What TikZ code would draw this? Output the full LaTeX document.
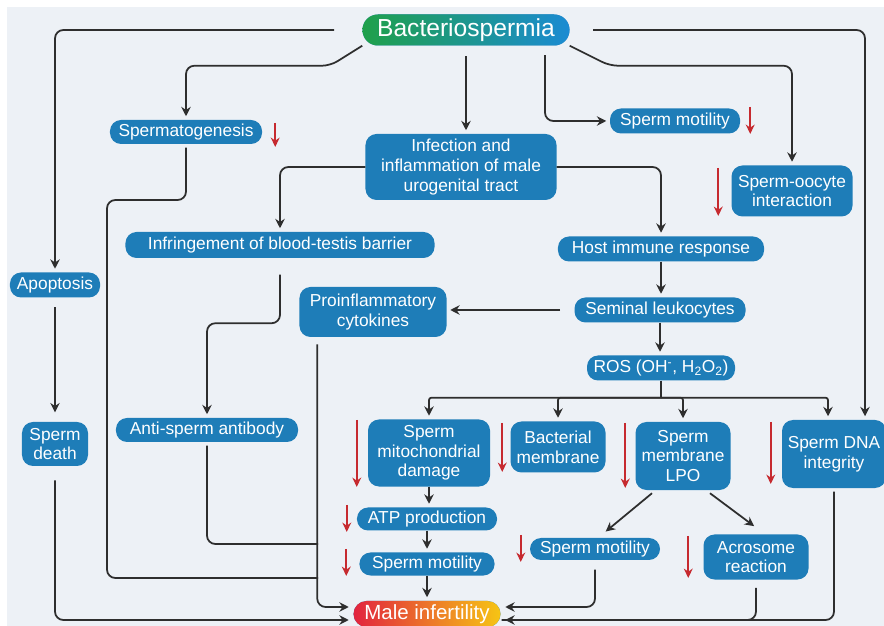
\documentclass[tikz,border=0pt]{standalone}
\usepackage{fontspec}
\setmainfont{Liberation Sans}
\usetikzlibrary{arrows.meta}
\usetikzlibrary{calc}

\definecolor{bgcol}{HTML}{EDF1F6}
\definecolor{boxblue}{HTML}{1E7DB8}
\definecolor{linegray}{HTML}{2E2E2E}
\definecolor{downred}{HTML}{C62A2F}
\definecolor{bgreen}{HTML}{1FA04A}
\definecolor{bblue}{HTML}{1B8BD3}
\definecolor{mired}{HTML}{E2243F}
\definecolor{miorange}{HTML}{F07D22}
\definecolor{miyellow}{HTML}{F6C514}

\tikzset{
  box/.style={rectangle, rounded corners=0.33cm, fill=boxblue, text=white,
    align=center, inner sep=1pt, font=\fontsize{14.8}{16.8}\selectfont},
  link/.style={draw=linegray, line width=1.5pt, rounded corners=0.25cm},
  conn/.style={link, shorten >=3pt, -{Stealth[length=8pt,width=8pt]}},
  decr/.style={draw=downred, line width=1.7pt, -{Stealth[length=8pt,width=7.5pt]}},
}

\begin{document}
\begin{tikzpicture}[x=0.03cm,y=-0.03cm]
        \useasboundingbox (0,0) rectangle (884,626);
        \fill[bgcol] (7,7) rectangle (884,626);

        % Nodes
        \node[box, minimum width=6.21cm, minimum height=0.93cm, rounded corners=0.46cm,
          left color=bgreen, right color=bblue, font=\fontsize{21}{24}\selectfont] (bact) at (466,30) {Bacteriospermia};
        \node[box, minimum width=4.56cm, minimum height=0.72cm] (sperm)  at (186,132) {Spermatogenesis};
        \node[box, minimum width=5.73cm, minimum height=1.98cm] (infec)  at (461,167) {Infection and\\inflammation of male\\urogenital tract};
        \node[box, minimum width=3.9cm,  minimum height=0.75cm] (motil)  at (675,121) {Sperm motility};
        \node[box, minimum width=3.63cm, minimum height=1.53cm] (oocyte) at (792,191) {Sperm-oocyte\\interaction};
        \node[box, minimum width=9.27cm, minimum height=0.78cm] (infr)   at (280,245) {Infringement of blood-testis barrier};
        \node[box, minimum width=6.18cm, minimum height=0.75cm] (host)   at (661,249) {Host immune response};
        \node[box, minimum width=2.7cm,  minimum height=0.75cm] (apop)   at (55,285)  {Apoptosis};
        \node[box, minimum width=4.41cm, minimum height=1.5cm]  (cyto)   at (373,312) {Proinflammatory\\cytokines};
        \node[box, minimum width=5.13cm, minimum height=0.75cm] (semi)   at (660,310) {Seminal leukocytes};
        \node[box, minimum width=4.44cm, minimum height=0.75cm] (ros)    at (661,368) {ROS (OH\textsuperscript{-}, H\textsubscript{2}O\textsubscript{2})};
        \node[box, minimum width=5.46cm, minimum height=0.72cm] (anti)   at (207,430) {Anti-sperm antibody};
        \node[box, minimum width=1.98cm, minimum height=1.32cm] (death)  at (55,444)  {Sperm\\death};
        \node[box, minimum width=3.66cm, minimum height=2.01cm] (mito)   at (429,453) {Sperm\\mitochondrial\\damage};
        \node[box, minimum width=2.85cm, minimum height=1.53cm] (bacm)   at (558,447) {Bacterial\\membrane};
        \node[box, minimum width=2.85cm, minimum height=2.04cm] (lpo)    at (683,456) {Sperm\\membrane\\LPO};
        \node[box, minimum width=3.12cm, minimum height=2.04cm] (dna)    at (834,454) {Sperm DNA\\integrity};
        \node[box, minimum width=4.2cm,  minimum height=0.69cm] (atp)    at (427,519) {ATP production};
        \node[box, minimum width=4.05cm, minimum height=0.69cm] (mot2)   at (427,564) {Sperm motility};
        \node[box, minimum width=3.9cm,  minimum height=0.66cm] (mot3)   at (595,549) {Sperm motility};
        \node[box, minimum width=3.15cm, minimum height=1.35cm] (acro)   at (756,557) {Acrosome\\reaction};
        \node[box, minimum width=4.41cm, minimum height=0.78cm, rounded corners=0.39cm,
          left color=mired, middle color=miorange, right color=miyellow,
          font=\fontsize{17.5}{20}\selectfont] (inf) at (427,614) {Male infertility};

        % Junctions
        \coordinate (rosj) at ($(ros.south)+(0,17)$);
        \coordinate (jA)   at ($(cyto.south west)+(18,0)$);
        \coordinate (jB)   at (318,578);
        \coordinate (jC)   at (318,544);
        \coordinate (inL1) at ($(inf.west)+(-1,-7)$);
        \coordinate (inL2) at ($(inf.west)+(-1,6)$);
        \coordinate (inR1) at ($(inf.east)+(1,-7)$);
        \coordinate (inR2) at ($(inf.east)+(1,6)$);

        % Edges
        \draw[conn, shorten <=24pt] (bact.west) -| (apop.north);
        \draw[conn] (bact.south west) -- ++(-32,20) -| (sperm.north);
        \draw[conn, shorten <=9pt] (bact.south) -- (bact.south |- infec.north);
        \draw[conn, shorten <=8pt] ($(bact.south)+(79,0)$) |- (motil.west);
        \draw[conn] (bact.south east) -- ++(40,20) -| (oocyte.north);
        \draw[conn, shorten <=20pt] (bact.east) -| ($(dna.north)+(31,0)$);
        \draw[conn] (infec.west) -| (infr.north);
        \draw[conn] (infec.east) -| (host.north);
        \draw[conn] (host.south) -- (host.south |- semi.north);
        \draw[conn] (semi.south) -- (semi.south |- ros.north);
        \draw[conn, shorten <=12pt] (semi.west) -- (semi.west -| cyto.east);
        \draw[conn, shorten <=8pt, shorten >=8pt] (apop) -- (death);
        \draw[conn, shorten <=14pt] (infr.south) -- ++(0,65) -| (anti.north);

        \draw[link] (ros.south) -- (rosj);
        \draw[conn, rounded corners=2pt] (rosj) -| (mito.north);
        \draw[conn, rounded corners=2pt] (rosj) -| (bacm.north);
        \draw[conn, rounded corners=2pt] (rosj) -| (lpo.north);
        \draw[conn, rounded corners=2pt] (rosj) -| ($(dna.north)+(-6,0)$);

        \draw[conn] (mito.south) -- (mito.south |- atp.north);
        \draw[conn] (atp.south) -- (atp.south |- mot2.north);
        \draw[conn] (mot2.south) -- (mot2.south |- inf.north);
        \draw[conn] ($(lpo.south)+(-31,3)$) -- ($(mot3.north)+(8,-4)$);
        \draw[conn] ($(lpo.south)+(27,3)$) -- ($(acro.north)+(1,-6)$);

        \draw[link, shorten <=3pt] (sperm.south) |- (107,200) |- (jB);
        \draw[link, shorten <=3pt] (anti.south) |- (jC);
        \draw[conn, shorten <=6pt] (jA) |- (inL1);
        \draw[conn, shorten <=12pt] (death.south) |- (inL2);
        \draw[conn, shorten <=8pt] (mot3.south) |- (inR1);
        \draw[link, shorten <=7pt] (acro.south) |- (inR2);
        \draw[conn, shorten <=3pt] (dna.south) |- (inR2);

        % Decrease marks
        \draw[decr] ($(sperm.east)+(13,-9)$)    -- ++(0,24);
        \draw[decr] ($(motil.east)+(10,-14)$)   -- ++(0,27);
        \draw[decr] ($(oocyte.west)+(-13,-23)$) -- ++(0,48);
        \draw[decr] ($(mito.west)+(-11,-33)$)   -- ++(0,67);
        \draw[decr] ($(bacm.west)+(-8,-24)$)    -- ++(0,49);
        \draw[decr] ($(lpo.west)+(-10,-33)$)    -- ++(0,65);
        \draw[decr] ($(dna.west)+(-11,-32)$)    -- ++(0,62);
        \draw[decr] ($(atp.west)+(-10,-14)$)    -- ++(0,27);
        \draw[decr] ($(mot2.west)+(-13,-15)$)   -- ++(0,27);
        \draw[decr] ($(mot3.west)+(-9,-14)$)    -- ++(0,27);
        \draw[decr] ($(acro.west)+(-15,-21)$)   -- ++(0,42);
    \end{tikzpicture}
\end{document}
